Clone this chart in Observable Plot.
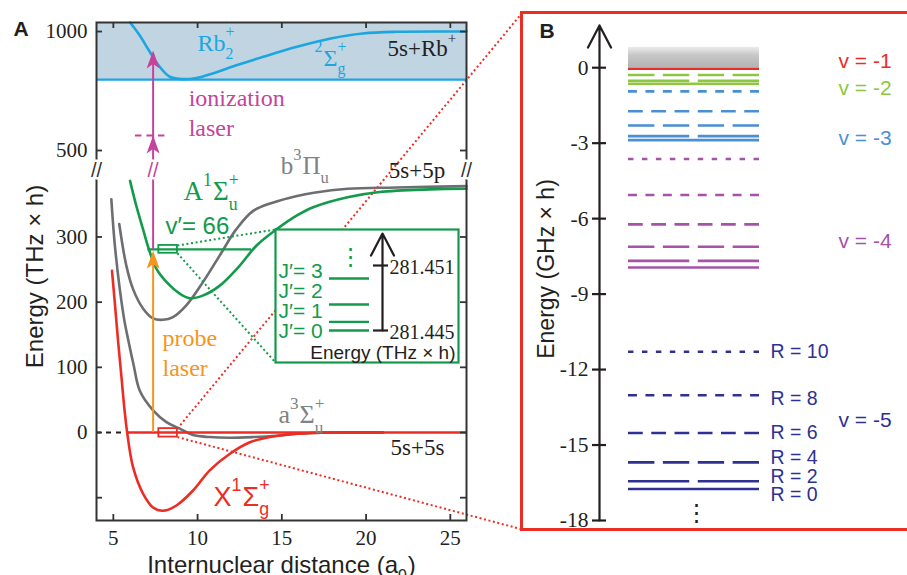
<!DOCTYPE html>
<html><head><meta charset="utf-8">
<script src="https://cdn.jsdelivr.net/npm/d3@7"></script>
<script src="https://cdn.jsdelivr.net/npm/@observablehq/plot@0.6"></script>
<style>
html,body{margin:0;padding:0;background:#fff;overflow:hidden}
#fig{position:relative;width:907px;height:575px;overflow:hidden;background:#fff}
#fig svg{position:absolute;overflow:visible;max-width:none}
#bbox{position:absolute;left:520px;top:11px;width:420px;height:520px;border:3px solid #ec2d24;box-sizing:border-box;pointer-events:none}
</style></head><body><div id="fig"></div>
<script>
const SERIF = "'Liberation Serif', 'Times New Roman', serif";
const SANS = "'Liberation Sans', Arial, sans-serif";
const INK = "#231f20", RED = "#ec2d24", GRAY = "#6d6e71", GRAYT = "#808285", GREEN = "#139a4b",
      CYAN = "#1ba6e0", BAND = "#c0d4e2", ORANGE = "#f7941d", MAG = "#c4449b";

// ---------------- Panel A data (R in a0, E in THz x h) ----------------
const xTicksA = [5, 10, 15, 20, 25];
const yTicksA = [0, 100, 200, 300, 500, 1000];
const yTicksAllA = [-100, 0, 100, 200, 300, 500, 1000];
// X 1Sigma_g+
const xR = [4.92, 5.1, 5.3, 5.5, 5.65, 5.82, 6.17, 6.77, 7.36, 7.95, 8.74, 9.73, 10.72, 11.9, 13.1, 14.5, 15.9, 18.0, 21.0];
const xE = [248, 195, 135, 80, 38, 0, -53, -94, -115, -120, -112, -89, -58, -33, -15, -6, -2, 0, 0];
// a 3Sigma_u+
const aR = [4.88, 5.12, 5.62, 5.9, 6.2, 6.57, 7.36, 8.15, 8.94, 9.73, 10.72, 11.9, 13.3, 14.7, 15.9, 18.0, 21.0];
const aE = [358, 279, 177, 140, 104, 64, 34, 16, 6, -4, -7, -8, -7, -5, -2, 0, 0];
// b 3Pi_u
const bR = [5.35, 5.77, 6.17, 6.77, 7.36, 7.95, 8.54, 9.33, 10.3, 11.3, 12.3, 13.3, 14.5, 15.9, 16.9, 18.9, 21.8, 25.96];
const bE = [320, 256, 220, 190, 175, 173, 177, 195, 230, 271, 312, 340, 353, 363, 368, 374, 376, 378];
// A 1Sigma_u+
const AR = [5.99, 6.36, 6.76, 7.1, 7.56, 8.15, 8.94, 9.53, 10.3, 11.3, 12.5, 13.5, 14.7, 15.9, 16.9, 18.9, 20.8, 23.8, 25.96];
const AE = [386, 348, 312, 282, 251, 231, 213, 206, 210, 225, 256, 287, 312, 333, 346, 361, 369, 373, 374];
// Rb2+ 2Sigma_g+
const ionR = [6.0, 6.56, 7.16, 7.75, 8.35, 9.14, 9.93, 10.9, 12.3, 13.9, 15.9, 17.9, 19.8, 21.8, 25.96];
const ionE = [1038, 984, 915, 852, 810, 800, 805, 824, 858, 894, 936, 971, 992, 999, 1000];
const ionLimit = 798;          // bottom of the ion continuum band
const xCross = 5.82;           // X state crosses 0
const v66 = {E: 281, Rin: 7.05, Rout: 13.2};
const probeR = 7.36, probeTip = 279, virtualE = 563, ionTip = 920;
const boxR = [7.7, 8.8];
const greenBoxE = [275, 287], redBoxE = [-7, 6];
// inset: rotational levels J'=0..3 and energy marks
const jE = [281.4450, 281.4458, 281.4474, 281.4498];
const inTicks = [281.445, 281.451];

// ---------------- Panel B data (GHz x h) ----------------
const bTicks = [0, -3, -6, -9, -12, -15, -18];
const vNames = [-1, -2, -3, -4, -5];
const vColor = {"-1": "#ec2d24", "-2": "#8dc63f", "-3": "#4a8fd3", "-4": "#a553a8", "-5": "#2e3192"};
const rotR = [0, 2, 4, 6, 8, 10];
const vm1E = [-0.04];
const vm2E = [-0.64, -0.52, -0.29];
const vm3E = [-2.88, -2.72, -2.30, -1.73, -0.94];
const vm4E = [-7.94, -7.68, -7.12, -6.23, -5.06, -3.63];
const vm5E = [-16.75, -16.44, -15.69, -14.52, -13.02, -11.29];
const vLabelE = [0.25, -0.8, -2.81, -6.9, -14.0];

// ---------------- helpers ----------------
const c2d = document.createElement("canvas").getContext("2d");
function tw(t, size, family, weight) { c2d.font = `${weight || "normal"} ${size}px ${family}`; return c2d.measureText(t).width; }

// broken energy axis: linear below the break, compressed above it
const GA = {w: 520, h: 575, left: 96, right: 466, top: 22, bottom: 520, brk: 170};
const brkLo = 402, brkHi = 416, eBot = -135, eTop = 1038;
const ratio = ((GA.brk - GA.top) / (eTop - brkHi)) / ((GA.bottom - GA.brk) / (brkLo - eBot));
const U = E => E <= brkLo ? E : E >= brkHi ? brkLo + (E - brkHi) * ratio : brkLo;
const Uinv = u => u <= brkLo ? u : brkHi + (u - brkLo) / ratio;

function rich(x, E, parts, o = {}) {
  const size = o.size || 24, family = o.family || SERIF, fill = o.fill || INK, anchor = o.anchor || "start";
  const y = o.raw ? E : U(E);
  const sm = size * 0.66, supDy = -0.55 * size, subDy = 0.36 * size;
  const items = []; let cx = 0;
  for (const p of parts) {
    if (typeof p === "string") { items.push({t: p, dx: cx, dy: 0, s: size}); cx += tw(p, size, family); }
    else {
      const [sub, sup] = p; let w = 0;
      if (sub) { items.push({t: sub, dx: cx, dy: subDy, s: sm}); w = Math.max(w, tw(sub, sm, family)); }
      if (sup) { items.push({t: sup, dx: cx, dy: supDy, s: sm}); w = Math.max(w, tw(sup, sm, family)); }
      cx += w + 1;
    }
  }
  const shift = anchor === "middle" ? -cx / 2 : anchor === "end" ? -cx : 0;
  return items.map(it => Plot.text([{x, y}], {x: "x", y: "y", text: () => it.t, dx: it.dx + shift, dy: it.dy,
    fontSize: it.s, fontFamily: family, fill, textAnchor: "start", lineAnchor: "bottom"}));
}
const pts = (R, E) => R.map((r, i) => ({R: r, u: U(E[i])}));
const lineOpts = stroke => ({x: "R", y: "u", curve: "catmull-rom", stroke, strokeWidth: 2.6, strokeLinecap: "round"});
const arrowSym = {draw(c) { c.moveTo(0, 0); c.lineTo(6.5, 18); c.lineTo(0, 13.5); c.lineTo(-6.5, 18); c.closePath(); }};

// ---------------- Panel A ----------------
const xDomA = [4, 25.96];
const yDomA = [eBot, U(eTop)];
const sx = d3.scaleLinear(xDomA, [GA.left, GA.right]);
const sy = d3.scaleLinear(yDomA, [GA.bottom, GA.top]);   // in display units u
const IN = {x1: 275, y1: 229, x2: 458, y2: 362};   // inset box (px)
const BB = {x: 522, top: 12, bottom: 529};        // panel B box (px)

const plotA = Plot.plot({
  width: GA.w, height: GA.h, marginLeft: GA.left, marginRight: GA.w - GA.right, marginTop: GA.top, marginBottom: GA.h - GA.bottom,
  style: {fontFamily: SERIF, fontSize: "21px", color: INK, background: "transparent", overflow: "visible"},
  x: {domain: xDomA, ticks: xTicksA, tickSize: 0, tickPadding: 10, label: null},
  y: {domain: yDomA, ticks: yTicksA.map(U), tickFormat: u => String(Math.round(Uinv(u))), tickSize: 0, tickPadding: 9, label: null},
  marks: [
    Plot.rect([{}], {x1: xDomA[0], x2: xDomA[1], y1: U(ionLimit), y2: U(eTop), fill: BAND}),
    Plot.ruleY([U(ionLimit)], {stroke: CYAN, strokeWidth: 2.2}),
    Plot.line(pts(ionR, ionE), lineOpts(CYAN)),
    // red dotted connectors to panel B
    Plot.link([{}], {x1: boxR[1], y1: U(redBoxE[1]), x2: sx.invert(BB.x), y2: sy.invert(BB.top), stroke: RED, strokeWidth: 2, strokeDasharray: "2,2.6"}),
    Plot.link([{}], {x1: boxR[1], y1: U(redBoxE[0]), x2: sx.invert(BB.x), y2: sy.invert(BB.bottom), stroke: RED, strokeWidth: 2, strokeDasharray: "2,2.6"}),
    Plot.line(pts(aR, aE), lineOpts(GRAY)),
    Plot.line(pts(bR, bE), lineOpts(GRAY)),
    Plot.line(pts(AR, AE), lineOpts(GREEN)),
    Plot.ruleY([0], {x1: xDomA[0], x2: xCross, stroke: INK, strokeWidth: 2, strokeDasharray: "5,5"}),
    Plot.ruleY([0], {x1: xCross, x2: xDomA[1], stroke: RED, strokeWidth: 2.6}),
    Plot.line(pts(xR, xE), lineOpts(RED)),
    Plot.ruleY([U(v66.E)], {x1: v66.Rin, x2: v66.Rout, stroke: GREEN, strokeWidth: 2.4}),
    // green dotted connectors to inset
    Plot.link([{}], {x1: boxR[1], y1: U(greenBoxE[1]), x2: sx.invert(IN.x1), y2: sy.invert(IN.y1), stroke: GREEN, strokeWidth: 2, strokeDasharray: "2,2.6"}),
    Plot.link([{}], {x1: boxR[1], y1: U(greenBoxE[0]), x2: sx.invert(IN.x1), y2: sy.invert(IN.y2), stroke: GREEN, strokeWidth: 2, strokeDasharray: "2,2.6"}),
    Plot.rect([{}], {x1: boxR[0], x2: boxR[1], y1: U(greenBoxE[0]), y2: U(greenBoxE[1]), stroke: GREEN, strokeWidth: 1.8, fill: "none"}),
    Plot.rect([{}], {x1: boxR[0], x2: boxR[1], y1: U(redBoxE[0]), y2: U(redBoxE[1]), stroke: RED, strokeWidth: 1.8, fill: "none"}),
    // lasers
    Plot.ruleX([probeR], {y1: 0, y2: U(probeTip - 12), stroke: ORANGE, strokeWidth: 2}),
    Plot.dot([{R: probeR, u: U(probeTip)}], {x: "R", y: "u", symbol: arrowSym, fill: ORANGE, stroke: "none"}),
    Plot.ruleX([probeR], {y1: U(v66.E), y2: U(ionTip - 20), stroke: MAG, strokeWidth: 2}),
    Plot.ruleY([U(virtualE)], {x1: 6.31, x2: 8.09, stroke: MAG, strokeWidth: 2, strokeDasharray: "6.5,5"}),
    Plot.dot([{R: probeR, u: U(virtualE)}, {R: probeR, u: U(ionTip)}], {x: "R", y: "u", symbol: arrowSym, fill: MAG, stroke: "none"}),
    // frame + inward ticks
    Plot.frame({stroke: "#333", strokeWidth: 2}),
    Plot.ruleY(yTicksAllA.map(U), {x1: xDomA[0], x2: sx.invert(GA.left + 6), stroke: "#333", strokeWidth: 1.8}),
    Plot.ruleY(yTicksAllA.map(U), {x1: sx.invert(GA.right - 6), x2: xDomA[1], stroke: "#333", strokeWidth: 1.8}),
    Plot.ruleX(xTicksA, {y1: yDomA[1], y2: sy.invert(GA.top + 6), stroke: "#333", strokeWidth: 1.8}),
    Plot.ruleX(xTicksA, {y1: yDomA[0], y2: sy.invert(GA.bottom - 6), stroke: "#333", strokeWidth: 1.8}),
    // axis breaks
    Plot.text([{R: xDomA[0]}, {R: xDomA[1]}], {x: "R", y: () => brkLo, text: () => "//", fontFamily: SANS, fontSize: 20, fill: "#333", stroke: "white", strokeWidth: 5, textAnchor: "middle", lineAnchor: "middle"}),
    Plot.text([{R: probeR}], {x: "R", y: () => brkLo, text: () => "//", fontFamily: SANS, fontSize: 20, fill: MAG, stroke: "white", strokeWidth: 5, textAnchor: "middle", lineAnchor: "middle"}),
    // labels
    ...rich(9.99, 920, ["Rb", ["2", "+"]], {fill: CYAN, size: 24}),
    ...rich(16.94, 857, [["", "2"], "Σ", ["g", "+"]], {fill: CYAN, size: 24}),
    ...rich(21.27, 899, ["5s+Rb", ["", "+"]], {size: 23}),
    ...rich(9.47, 689, ["ionization"], {fill: MAG, size: 24}),
    ...rich(9.47, 563, ["laser"], {fill: MAG, size: 24}),
    ...rich(14.93, 397, ["b", ["", "3"], "Π", ["u", ""]], {fill: GRAYT, size: 25}),
    ...rich(21.35, 391, ["5s+5p"], {size: 23}),
    ...rich(9.17, 356, ["A", ["", "1"], "Σ", ["u", "+"]], {fill: GREEN, size: 27}),
    ...rich(8.09, 305, ["v′= 66"], {fill: GREEN, family: SANS, size: 24}),
    ...rich(7.92, 133, ["probe"], {fill: ORANGE, size: 24}),
    ...rich(7.92, 87, ["laser"], {fill: ORANGE, size: 24}),
    ...rich(14.8, 14, ["a", ["", "3"], "Σ", ["u", "+"]], {fill: GRAYT, size: 26}),
    ...rich(21.45, -35, ["5s+5s"], {size: 23}),
    ...rich(10.95, -112, ["X", ["", "1"], "Σ", ["g", "+"]], {fill: RED, family: SANS, size: 27}),
    // titles
    Plot.text([0], {frameAnchor: "top-left", text: () => "A", dx: -83, dy: 13, fontFamily: SANS, fontWeight: "bold", fontSize: 21, textAnchor: "start", lineAnchor: "bottom", fill: INK}),
    Plot.text([0], {frameAnchor: "left", text: () => "Energy (THz × h)", rotate: -90, dx: -61, dy: 5, fontFamily: SANS, fontSize: 24, fill: INK, textAnchor: "middle", lineAnchor: "middle"}),
    ...rich(sx.invert(281), sy.invert(572), ["Internuclear distance (a", ["0", ""], ")"], {family: SANS, size: 24, anchor: "middle", raw: true})
  ]
});
plotA.style.left = "0px"; plotA.style.top = "0px";

// ---------------- Panel B ----------------
const GB = {left: 522, w: 388, axisX: 77, top: 12, bottom: 529, zeroY: 67.2, m18Y: 520};
const pxB = (GB.m18Y - GB.zeroY) / 18;
const yDomB = [-18 - (GB.bottom - GB.m18Y) / pxB, (GB.zeroY - GB.top) / pxB];
const L0 = 29, L1 = 160, gap = 8.5;
const dashFor = R => R === 0 ? undefined : `${((L1 - L0) - (R - 1) * gap) / R},${gap}`;
const levels = [];
[vm1E, vm2E, vm3E, vm4E, vm5E].forEach((arr, k) => arr.forEach((E, j) => levels.push({v: vNames[k], R: rotR[j], E})));
const rLabelShift = {0: 6, 2: -5, 4: -4.5, 6: 0, 8: 4, 10: 0};

const plotB = Plot.plot({
  width: GB.w, height: 575, marginLeft: GB.axisX, marginRight: 0, marginTop: GB.top, marginBottom: 575 - GB.bottom,
  style: {fontFamily: SERIF, fontSize: "21.5px", color: INK, background: "transparent", overflow: "visible"},
  x: {domain: [0, GB.w - GB.axisX], axis: null},
  y: {domain: yDomB, ticks: bTicks, tickSize: 0, tickPadding: 11, tickFormat: d => String(d), label: null},
  marks: [
    Plot.rect([{}], {x1: L0, x2: L1, y1: 0, y2: 0.81, fill: "url(#bandGradB)"}),
    ...levels.map(d => Plot.ruleY([d.E], {x1: L0, x2: L1, stroke: vColor[d.v], strokeWidth: 2.6, strokeDasharray: dashFor(d.R)})),
    Plot.arrow([{}], {x1: 0, x2: 0, y1: -18, y2: 1.68, stroke: INK, strokeWidth: 2.2, headLength: 17, headAngle: 55}),
    Plot.ruleY(bTicks, {x1: -7, x2: 7, stroke: INK, strokeWidth: 2.2}),
    ...vNames.map((v, k) => Plot.text([0], {x: 239, y: () => vLabelE[k], text: () => `v = ${v}`, fill: vColor[v], fontFamily: SANS, fontSize: 21, textAnchor: "start", lineAnchor: "middle"})),
    ...levels.filter(d => d.v === -5).map(d => Plot.text([d], {x: 171, y: "E", dy: rLabelShift[d.R], text: () => `R = ${d.R}`, fill: vColor[-5], fontFamily: SANS, fontSize: 19.5, textAnchor: "start", lineAnchor: "middle"})),
    Plot.text([0], {x: 97, y: () => vm5E[0], dy: 24, text: () => "⋮", fontFamily: "'DejaVu Sans', sans-serif", fontSize: 24, fill: INK, textAnchor: "middle", lineAnchor: "middle"}),
    Plot.text([0], {frameAnchor: "top-left", text: () => "B", dx: -60, dy: 25, fontFamily: SANS, fontWeight: "bold", fontSize: 21, textAnchor: "start", lineAnchor: "bottom", fill: INK}),
    Plot.text([0], {frameAnchor: "left", text: () => "Energy (GHz × h)", rotate: -90, dx: -53, dy: -2, fontFamily: SANS, fontSize: 23, fill: INK, textAnchor: "middle", lineAnchor: "middle"})
  ]
});
const NS = "http://www.w3.org/2000/svg";
const defs = document.createElementNS(NS, "defs");
defs.innerHTML = '<linearGradient id="bandGradB" x1="0" y1="0" x2="0" y2="1"><stop offset="0" stop-color="#ececec"/><stop offset="0.4" stop-color="#c8c8c8"/><stop offset="1" stop-color="#b3b3b3"/></linearGradient>';
plotB.prepend(defs);
plotB.style.left = GB.left + "px"; plotB.style.top = "0px";

// ---------------- Inset ----------------
const iw = IN.x2 - IN.x1, ih = IN.y2 - IN.y1;
const pxPerTHz = 65 / 0.006;
const inDom = [inTicks[0] - (ih - 101) / pxPerTHz, inTicks[1] + 36 / pxPerTHz];
const plotIn = Plot.plot({
  width: iw, height: ih, margin: 0,
  style: {fontFamily: SERIF, fontSize: "20px", color: INK, background: "white", overflow: "visible"},
  x: {domain: [0, iw], axis: null},
  y: {domain: inDom, axis: null},
  marks: [
    Plot.frame({stroke: GREEN, strokeWidth: 2.2, fill: "white"}),
    Plot.ruleY(jE, {x1: 54, x2: 94, stroke: GREEN, strokeWidth: 2.4}),
    ...jE.map((e, J) => Plot.text([0], {x: 3, y: () => jE[0], dy: 7 - 20 * J, text: () => `J′= ${J}`, fill: GREEN, fontFamily: SANS, fontSize: 21, textAnchor: "start", lineAnchor: "bottom"})),
    Plot.text([0], {x: 75, y: () => jE[3], dy: -21, text: () => "⋮", fill: GREEN, fontFamily: "'DejaVu Sans', sans-serif", fontSize: 24, textAnchor: "middle", lineAnchor: "middle"}),
    Plot.arrow([{}], {x1: 107, x2: 107, y1: inTicks[0], y2: inDom[1] - 4 / pxPerTHz, stroke: INK, strokeWidth: 2.2, headLength: 17, headAngle: 55}),
    Plot.ruleY(inTicks, {x1: 98, x2: 113, stroke: INK, strokeWidth: 2.2}),
    Plot.text(inTicks, {x: 114, y: d => d, dy: 2, text: d => d.toFixed(3), fontFamily: SERIF, fontSize: 20, fill: INK, textAnchor: "start", lineAnchor: "middle"}),
    Plot.text([0], {frameAnchor: "bottom-right", dx: -3, dy: -4, text: () => "Energy (THz × h)", fontFamily: SANS, fontSize: 19, fill: INK, textAnchor: "end", lineAnchor: "bottom"})
  ]
});
plotIn.style.left = IN.x1 + "px"; plotIn.style.top = IN.y1 + "px";

const fig = document.getElementById("fig");
fig.appendChild(plotA);
fig.appendChild(plotB);
fig.appendChild(plotIn);
const bbox = document.createElement("div"); bbox.id = "bbox"; fig.appendChild(bbox);
</script></body></html>
